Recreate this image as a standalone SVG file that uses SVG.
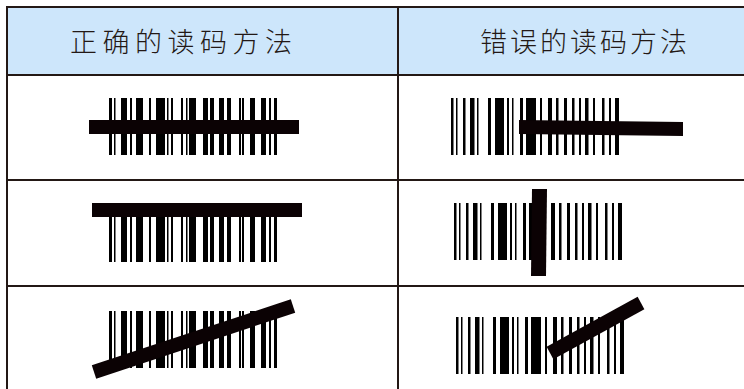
<svg xmlns="http://www.w3.org/2000/svg" xmlns:xlink="http://www.w3.org/1999/xlink" width="744" height="389" viewBox="0 0 744 389">
<style>
.hdr{fill:#cde6fb}
.grid{stroke:#231815;stroke-width:2;fill:none}
.ht{font-family:"Noto Sans CJK SC","Noto Sans",sans-serif;font-size:27px;font-weight:300;fill:#231815}
.bar{fill:#000}
.scan{fill:#0b0204}
</style>
<defs>
<g id="bcL" class="bar">
<rect x="0" y="0" width="3" height="57"/><rect x="5" y="0" width="1.5" height="57"/><rect x="12" y="0" width="6" height="57"/><rect x="21" y="0" width="2" height="57"/><rect x="27" y="0" width="7" height="57"/><rect x="40" y="0" width="2" height="57"/><rect x="47" y="0" width="9" height="57"/><rect x="58" y="0" width="1.5" height="57"/><rect x="62" y="0" width="2" height="57"/><rect x="72" y="0" width="2" height="57"/><rect x="77" y="0" width="1.5" height="57"/><rect x="80" y="0" width="7" height="57"/><rect x="94" y="0" width="5" height="57"/><rect x="101" y="0" width="4" height="57"/><rect x="110" y="0" width="5" height="57"/><rect x="118" y="0" width="4" height="57"/><rect x="130" y="0" width="2" height="57"/><rect x="133" y="0" width="2" height="57"/><rect x="141" y="0" width="5" height="57"/><rect x="152" y="0" width="5" height="57"/><rect x="160" y="0" width="2" height="57"/><rect x="165" y="0" width="3" height="57"/>
</g>
<g id="bcR" class="bar">
<rect x="0" y="0" width="2.5" height="57"/><rect x="5" y="0" width="1.5" height="57"/><rect x="12" y="0" width="2.5" height="57"/><rect x="19" y="0" width="4.5" height="57"/><rect x="26" y="0" width="1.5" height="57"/><rect x="37" y="0" width="3" height="57"/><rect x="44" y="0" width="9" height="57"/><rect x="56" y="0" width="2" height="57"/><rect x="61" y="0" width="1.5" height="57"/><rect x="69" y="0" width="3" height="57"/><rect x="75" y="0" width="10" height="57"/><rect x="89" y="0" width="2" height="57"/><rect x="97" y="0" width="4" height="57"/><rect x="105" y="0" width="2.5" height="57"/><rect x="113" y="0" width="3" height="57"/><rect x="121" y="0" width="2.5" height="57"/><rect x="128" y="0" width="2" height="57"/><rect x="134" y="0" width="3.5" height="57"/><rect x="142" y="0" width="2" height="57"/><rect x="151" y="0" width="2.5" height="57"/><rect x="158" y="0" width="2" height="57"/><rect x="164" y="0" width="4" height="57"/>
</g>
</defs>
<rect x="0" y="0" width="744" height="389" fill="#fff"/>
<g id="header">
<rect class="hdr" x="7" y="7" width="737" height="68"/>
<text class="ht" x="70" y="52" letter-spacing="5.5">正确的读码方法</text>
<text class="ht" x="480" y="52" letter-spacing="3">错误的读码方法</text>
</g>
<g id="grid">
<line class="grid" x1="7" y1="7" x2="744" y2="7"/>
<line class="grid" x1="7" y1="75" x2="744" y2="75"/>
<line class="grid" x1="7" y1="180" x2="744" y2="180"/>
<line class="grid" x1="7" y1="286" x2="744" y2="286"/>
<line class="grid" x1="7" y1="6" x2="7" y2="389"/>
<line class="grid" x1="398" y1="7" x2="398" y2="389"/>
</g>
<g id="cell-r1-correct">
<use xlink:href="#bcL" x="109" y="98"/>
<rect class="scan" x="89" y="120" width="210" height="14"/>
</g>
<g id="cell-r1-wrong">
<use xlink:href="#bcR" x="451" y="98"/>
<polygon class="scan" points="519,120 683,122 683,136 519,134"/>
</g>
<g id="cell-r2-correct">
<use xlink:href="#bcL" x="109" y="205"/>
<rect class="scan" x="92" y="203" width="210" height="14"/>
</g>
<g id="cell-r2-wrong">
<use xlink:href="#bcR" x="454" y="203"/>
<polygon class="scan" points="532,189 547,189 546,276 531,276"/>
</g>
<g id="cell-r3-correct">
<use xlink:href="#bcL" x="109" y="311"/>
<line x1="94" y1="372" x2="293" y2="306" stroke="#0b0204" stroke-width="14"/>
</g>
<g id="cell-r3-wrong">
<use xlink:href="#bcR" x="456" y="317"/>
<line x1="550" y1="353" x2="641" y2="303" stroke="#0b0204" stroke-width="14"/>
</g>
</svg>
